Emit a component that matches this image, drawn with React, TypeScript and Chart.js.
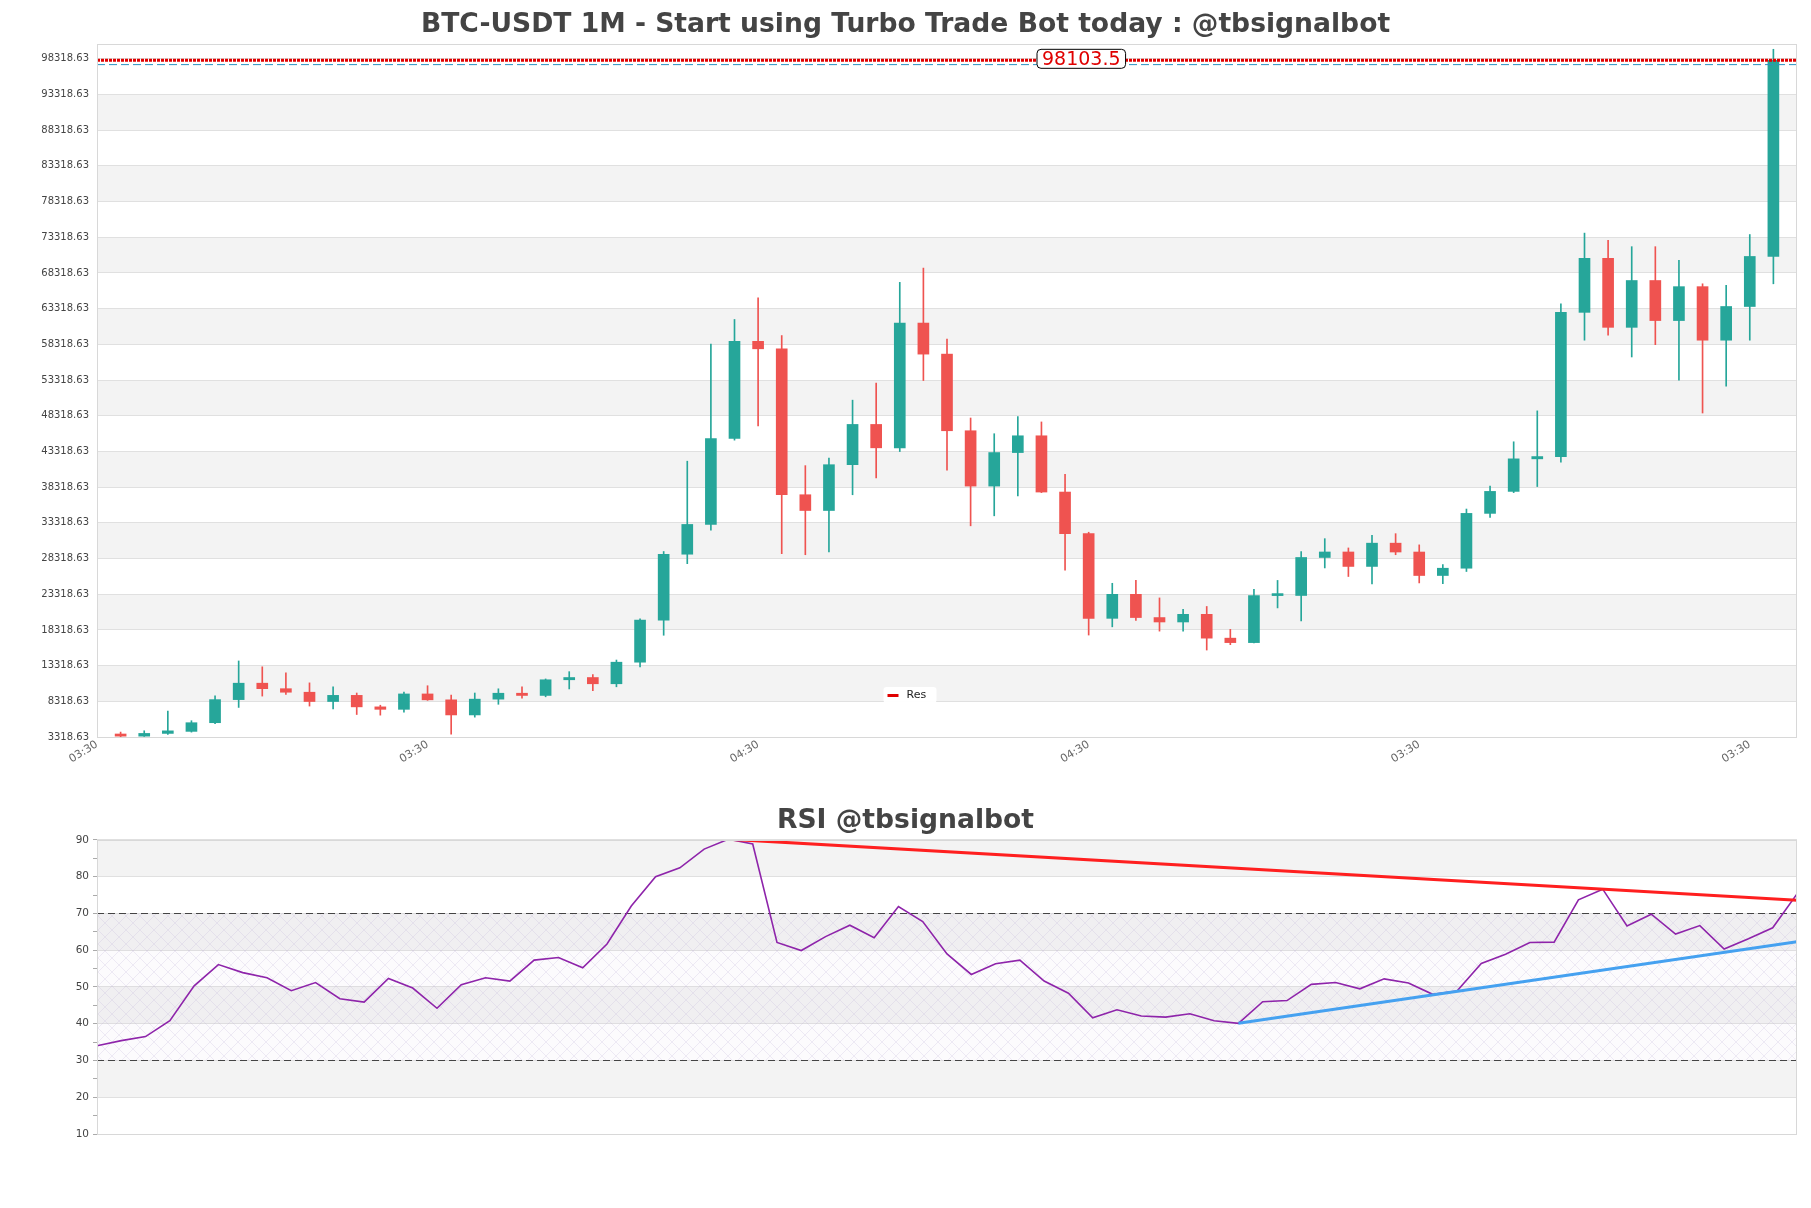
import React, { useEffect, useRef } from "react";
import { Chart, registerables } from "chart.js";

Chart.register(...registerables);

const FONT = "'DejaVu Sans', sans-serif";
const UP = "#26a69a";
const DOWN = "#ef5350";

// ---- Monthly candles (BTC-USDT 1M) ----
const candleOpen = [
  3740, 3437, 3820, 4105, 5320, 8555, 10855, 10085, 9590, 8290,
  9150, 7540, 7195, 9350, 8525, 6410, 8620, 9450, 9140, 11335,
  11650, 10776, 13797, 19695, 28923, 33092, 45135, 58740, 57694, 37253,
  35045, 41461, 47100, 43824, 61300, 56950, 46216, 38466, 43160, 45510,
  37630, 31800, 19940, 23300, 20050, 19430, 20500, 17165, 16540, 23125,
  23140, 28465, 29235, 27210, 30470, 29230, 25940, 26960, 34640, 37720,
  42280, 42600, 62800, 70370, 60700, 67260, 61650, 66400, 58900, 63620,
  70630,
];
const candleHigh = [
  4010, 4190, 6950, 5600, 9075, 13970, 13150, 12300, 10900, 10350,
  9480, 7770, 9620, 10500, 9200, 9480, 10070, 10360, 11450, 12470,
  12050, 14100, 19860, 29300, 41950, 58350, 61800, 64850, 59550, 41330,
  42400, 50500, 52900, 67000, 69000, 59050, 48000, 45800, 48200, 47450,
  40100, 32000, 24850, 25250, 22800, 21200, 21600, 18400, 24000, 25250,
  29300, 31100, 29800, 31550, 31800, 30230, 27480, 35250, 38450, 44670,
  49000, 64000, 73900, 72900, 72000, 72000, 70100, 66800, 66600, 73700,
  99650,
];
const candleLow = [
  3350, 3400, 3680, 4000, 5180, 7460, 9050, 9300, 7650, 7250,
  6470, 6380, 6800, 8450, 3700, 6100, 7900, 8750, 8950, 10050,
  9800, 10350, 13150, 17570, 27600, 32300, 44900, 46900, 29000, 28850,
  29250, 37250, 39600, 43300, 53250, 40700, 32900, 34300, 37100, 37550,
  26700, 17600, 18750, 19650, 18150, 18150, 15500, 16250, 16500, 21400,
  19580, 27000, 25800, 24750, 28850, 24900, 24800, 26500, 34080, 37550,
  38400, 41800, 58900, 59600, 56550, 58270, 53300, 48700, 52450, 58900,
  66800,
];
const candleClose = [
  3437, 3820, 4180, 5320, 8555, 10855, 10085, 9590, 8290, 9150,
  7540, 7195, 9350, 8525, 6410, 8620, 9450, 9140, 11335, 11650,
  10776, 13797, 19695, 28923, 33092, 45135, 58740, 57694, 37253, 35045,
  41461, 47100, 43824, 61300, 56950, 46216, 38466, 43160, 45510, 37630,
  31800, 19940, 23300, 20050, 19430, 20500, 17165, 16540, 23125, 23145,
  28465, 29235, 27210, 30470, 29230, 25940, 26960, 34640, 37720, 42280,
  42600, 62800, 70370, 60700, 67260, 61650, 66400, 58900, 63620, 70630,
  98103.5,
];

const xTickIndices = [0, 14, 28, 42, 56, 70];
const xTickLabels = ["03:30", "03:30", "04:30", "04:30", "03:30", "03:30"];
const priceTicks = [
  3318.63, 8318.63, 13318.63, 18318.63, 23318.63, 28318.63, 33318.63,
  38318.63, 43318.63, 48318.63, 53318.63, 58318.63, 63318.63, 68318.63,
  73318.63, 78318.63, 83318.63, 88318.63, 93318.63, 98318.63,
];
const priceMin = 3318.63;
const priceMax = 100400;
const resistanceLevel = 98103.5;
const guideLevel = 97500;

// ---- RSI ----
const rsiValues = [
  34.0, 35.4, 36.5, 40.8, 50.3, 56.1, 53.9, 52.5, 49.0, 51.2,
  46.8, 45.9, 52.3, 49.7, 44.2, 50.6, 52.5, 51.6, 57.3, 58.0,
  55.2, 61.7, 72.0, 80.0, 82.4, 87.5, 90.2, 88.9, 62.1, 59.9,
  63.7, 66.8, 63.4, 71.9, 67.8, 59.0, 53.4, 56.3, 57.3, 51.6,
  48.3, 41.6, 43.8, 42.1, 41.8, 42.7, 40.8, 40.1, 46.0, 46.3,
  50.7, 51.2, 49.5, 52.2, 51.1, 48.0, 48.9, 56.4, 58.9, 62.1,
  62.2, 73.7, 76.6, 66.6, 69.8, 64.4, 66.7, 60.3, 63.1, 66.1,
  75.3,
];
const rsiMajorTicks = [10, 20, 30, 40, 50, 60, 70, 80, 90];
const rsiMinorTicks = [15, 25, 35, 45, 55, 65, 75, 85];
const rsiOverbought = 70;
const rsiOversold = 30;
const rsiResistanceLine = [
  { x: 26, y: 90.2 },
  { x: 70, y: 73.6 },
];
const rsiSupportLine = [
  { x: 47, y: 40.1 },
  { x: 70, y: 62.3 },
];

// ---- plugins ----
const bandsPlugin = {
  id: "bands",
  beforeDraw(chart: any, _a: any, opts: any) {
    const { ctx, chartArea: a, scales } = chart;
    const y = scales.y;
    const lv: number[] = opts.levels;
    ctx.save();
    ctx.fillStyle = opts.color;
    for (let k = 1; k < lv.length - 1; k += 2) {
      const yt = y.getPixelForValue(lv[k + 1]);
      const yb = y.getPixelForValue(lv[k]);
      ctx.fillRect(a.left, yt, a.right - a.left, yb - yt);
    }
    ctx.restore();
  },
};

const framePlugin = {
  id: "frame",
  afterDraw(chart: any) {
    const { ctx, chartArea: a } = chart;
    ctx.save();
    ctx.strokeStyle = "#d8d8d8";
    ctx.lineWidth = 1;
    ctx.strokeRect(Math.round(a.left) + 0.5, Math.round(a.top) + 0.5, Math.round(a.right - a.left) - 1, Math.round(a.bottom - a.top));
    ctx.restore();
  },
};

function roundRect(ctx: CanvasRenderingContext2D, x: number, y: number, w: number, h: number, r: number) {
  ctx.beginPath();
  ctx.moveTo(x + r, y);
  ctx.lineTo(x + w - r, y);
  ctx.quadraticCurveTo(x + w, y, x + w, y + r);
  ctx.lineTo(x + w, y + h - r);
  ctx.quadraticCurveTo(x + w, y + h, x + w - r, y + h);
  ctx.lineTo(x + r, y + h);
  ctx.quadraticCurveTo(x, y + h, x, y + h - r);
  ctx.lineTo(x, y + r);
  ctx.quadraticCurveTo(x, y, x + r, y);
  ctx.closePath();
}

const priceLabelPlugin = {
  id: "priceLabel",
  afterDatasetsDraw(chart: any) {
    const { ctx, chartArea: a, scales } = chart;
    const py = scales.y.getPixelForValue(resistanceLevel);
    const cx = a.left + 0.579 * (a.right - a.left);
    const text = String(resistanceLevel);
    ctx.save();
    ctx.font = `19px ${FONT}`;
    const w = ctx.measureText(text).width + 10;
    const h = 19;
    roundRect(ctx, cx - w / 2, py - 1.5 - h / 2, w, h, 4);
    ctx.fillStyle = "#ffffff";
    ctx.fill();
    ctx.strokeStyle = "#000000";
    ctx.lineWidth = 1;
    ctx.stroke();
    ctx.fillStyle = "#e00000";
    ctx.textAlign = "center";
    ctx.textBaseline = "middle";
    ctx.fillText(text, cx, py - 0.5);
    ctx.restore();
  },
};

const resLegendPlugin = {
  id: "resLegend",
  afterDraw(chart: any) {
    const { ctx, chartArea: a } = chart;
    const bx = chart.width / 2 - 22;
    const by = a.bottom - 50;
    ctx.save();
    ctx.fillStyle = "rgba(255,255,255,0.95)";
    roundRect(ctx, bx, by, 53, 16, 3);
    ctx.fill();
    ctx.strokeStyle = "#e00000";
    ctx.lineWidth = 3;
    ctx.beginPath();
    ctx.moveTo(bx + 4, by + 8.5);
    ctx.lineTo(bx + 15, by + 8.5);
    ctx.stroke();
    ctx.fillStyle = "#222";
    ctx.font = `11px ${FONT}`;
    ctx.textBaseline = "middle";
    ctx.fillText("Res", bx + 23, by + 8);
    ctx.restore();
  },
};

function makeHatch(): any {
  const s = 14;
  const c = document.createElement("canvas");
  c.width = s;
  c.height = s;
  const g = c.getContext("2d")!;
  g.fillStyle = "rgba(210,195,230,0.07)";
  g.fillRect(0, 0, s, s);
  g.strokeStyle = "rgba(185,170,210,0.38)";
  g.lineWidth = 0.6;
  g.beginPath();
  g.moveTo(0, 0);
  g.lineTo(s, s);
  g.moveTo(s, 0);
  g.lineTo(0, s);
  g.stroke();
  return g.createPattern(c, "repeat");
}

const rsiZonePlugin = {
  id: "rsiZone",
  beforeDatasetsDraw(chart: any) {
    const { ctx, chartArea: a, scales } = chart;
    const y = scales.y;
    const yt = y.getPixelForValue(rsiOverbought);
    const yb = y.getPixelForValue(rsiOversold);
    ctx.save();
    ctx.fillStyle = makeHatch();
    ctx.fillRect(a.left, yt, a.right - a.left, yb - yt);
    ctx.strokeStyle = "#444";
    ctx.lineWidth = 1.2;
    ctx.setLineDash([7, 4]);
    for (const v of [rsiOverbought, rsiOversold]) {
      const p = Math.round(y.getPixelForValue(v)) + 0.5;
      ctx.beginPath();
      ctx.moveTo(a.left, p);
      ctx.lineTo(a.right, p);
      ctx.stroke();
    }
    ctx.restore();
  },
};

function priceConfig(): any {
  const n = candleOpen.length;
  const colors = candleOpen.map((o, i) => (candleClose[i] >= o ? UP : DOWN));
  const wicks = candleOpen.map((_, i) => ({ x: i + 1, y: [candleLow[i], candleHigh[i]] }));
  const bodies = candleOpen.map((o, i) => ({ x: i + 1, y: [o, candleClose[i]] }));
  return {
    type: "bar",
    data: {
      datasets: [
        {
          type: "line",
          label: "Res",
          data: [
            { x: 0, y: resistanceLevel },
            { x: n + 1, y: resistanceLevel },
          ],
          borderColor: "#e00000",
          borderWidth: 3,
          borderDash: [3, 1],
          pointRadius: 0,
          fill: false,
        },
        {
          type: "line",
          label: "guide",
          data: [
            { x: 0, y: guideLevel },
            { x: n + 1, y: guideLevel },
          ],
          borderColor: "#2b93c2",
          borderWidth: 1,
          borderDash: [8, 4],
          pointRadius: 0,
          fill: false,
        },
        {
          label: "body",
          data: bodies,
          backgroundColor: colors,
          borderWidth: 0,
          barThickness: 11,
          grouped: false,
          minBarLength: 2,
        },
        {
          label: "wick",
          data: wicks,
          backgroundColor: colors,
          borderWidth: 0,
          barThickness: 1,
          grouped: false,
        },
      ],
    },
    options: {
      responsive: false,
      animation: false,
      events: [],
      layout: { padding: { left: 14, right: 14, top: 0, bottom: 0 } },
      scales: {
        x: {
          type: "linear",
          min: 0,
          max: n + 1,
          offset: false,
          afterBuildTicks: (s: any) => {
            s.ticks = xTickIndices.map((v) => ({ value: v }));
          },
          afterFit: (s: any) => {
            s.height = 53;
          },
          ticks: {
            autoSkip: false,
            minRotation: 32,
            maxRotation: 32,
            padding: 1,
            color: "#666",
            font: { family: FONT, size: 11 },
            callback: (_v: any, i: number) => xTickLabels[i],
          },
          grid: { display: false, drawTicks: false, offset: false },
          border: { display: false },
        },
        y: {
          min: priceMin,
          max: priceMax,
          afterBuildTicks: (s: any) => {
            s.ticks = priceTicks.map((v) => ({ value: v }));
          },
          afterFit: (s: any) => {
            s.width = 83;
          },
          ticks: {
            autoSkip: false,
            padding: 8,
            color: "#444",
            font: { family: FONT, size: 10 },
            callback: (v: any) => Number(v).toFixed(2),
          },
          grid: { color: "#e0e0e0", drawTicks: false },
          border: { display: false },
        },
      },
      plugins: {
        legend: { display: false },
        tooltip: { enabled: false },
        title: {
          display: true,
          text: "BTC-USDT 1M - Start using Turbo Trade Bot today : @tbsignalbot",
          color: "#444",
          font: { family: FONT, size: 26.6, weight: "bold" },
          padding: { top: 9, bottom: 3 },
        },
        bands: { levels: priceTicks, color: "#f3f3f3" },
      },
    },
    plugins: [bandsPlugin, framePlugin, priceLabelPlugin, resLegendPlugin],
  };
}

function rsiConfig(): any {
  const allTicks = [...rsiMajorTicks, ...rsiMinorTicks].sort((a, b) => a - b);
  return {
    type: "line",
    data: {
      datasets: [
        {
          label: "resistance",
          data: rsiResistanceLine,
          borderColor: "#ff1f1f",
          borderWidth: 3,
          pointRadius: 0,
        },
        {
          label: "support",
          data: rsiSupportLine,
          borderColor: "#45a1f0",
          borderWidth: 3,
          pointRadius: 0,
        },
        {
          label: "RSI",
          data: rsiValues.map((v, i) => ({ x: i, y: v })),
          borderColor: "#8e24aa",
          borderWidth: 1.6,
          pointRadius: 0,
          tension: 0,
        },
      ],
    },
    options: {
      responsive: false,
      animation: false,
      events: [],
      layout: { padding: { left: 14, right: 14, top: 0, bottom: 74 } },
      scales: {
        x: { type: "linear", min: 0, max: rsiValues.length - 1, display: false },
        y: {
          min: 10,
          max: 90,
          afterBuildTicks: (s: any) => {
            s.ticks = allTicks.map((v) => ({ value: v }));
          },
          afterFit: (s: any) => {
            s.width = 83;
          },
          ticks: {
            autoSkip: false,
            padding: 4,
            color: "#444",
            font: { family: FONT, size: 10.5 },
            callback: (v: any) => (rsiMajorTicks.includes(Number(v)) ? String(v) : ""),
          },
          grid: {
            color: (c: any) => (c.tick && rsiMajorTicks.includes(c.tick.value) ? "#e0e0e0" : "rgba(0,0,0,0)"),
            tickColor: "#aaa",
            tickLength: 4,
            drawTicks: true,
          },
          border: { display: false },
        },
      },
      plugins: {
        legend: { display: false },
        tooltip: { enabled: false },
        title: {
          display: true,
          text: "RSI @tbsignalbot",
          color: "#444",
          font: { family: FONT, size: 26.6, weight: "bold" },
          padding: { top: 15, bottom: 3 },
        },
        bands: { levels: rsiMajorTicks, color: "#f3f3f3" },
      },
    },
    plugins: [bandsPlugin, rsiZonePlugin, framePlugin],
  };
}

export default function App() {
  const priceRef = useRef<HTMLCanvasElement>(null);
  const rsiRef = useRef<HTMLCanvasElement>(null);
  useEffect(() => {
    const c1 = new Chart(priceRef.current!, priceConfig());
    const c2 = new Chart(rsiRef.current!, rsiConfig());
    return () => {
      c1.destroy();
      c2.destroy();
    };
  }, []);
  return (
    <div style={{ position: "absolute", left: 0, top: 0, width: 1811, height: 1208, background: "#fff" }}>
      <canvas ref={priceRef} width={1811} height={790} style={{ position: "absolute", left: 0, top: 0 }} />
      <canvas ref={rsiRef} width={1811} height={418} style={{ position: "absolute", left: 0, top: 790 }} />
    </div>
  );
}
